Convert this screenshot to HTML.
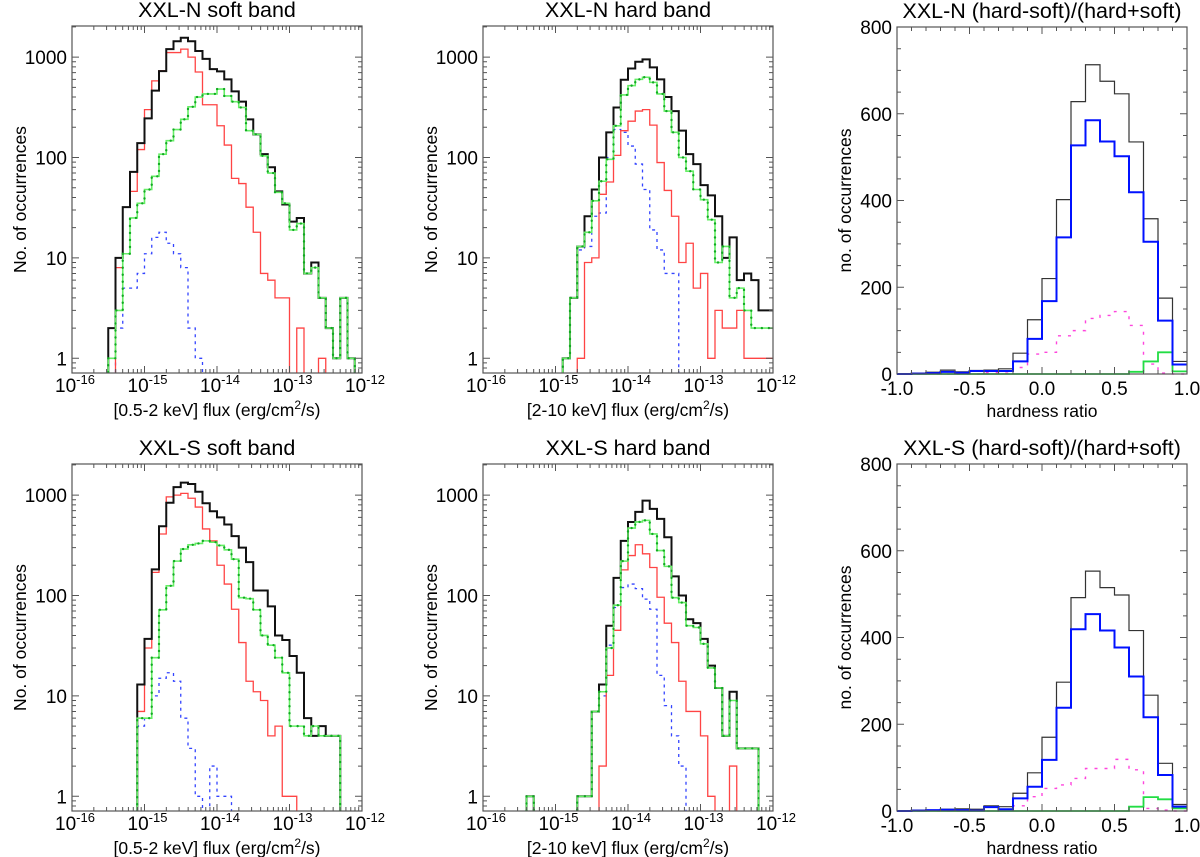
<!DOCTYPE html>
<html><head><meta charset="utf-8"><style>
html,body{margin:0;padding:0;background:#fff;}
svg{display:block;font-family:"Liberation Sans",Arial,sans-serif;}
</style></head><body>
<svg id="chart" width="1200" height="857" viewBox="0 0 1200 857" xmlns="http://www.w3.org/2000/svg"></svg>
<script>
// ---- data: log flux histograms, bins of 0.1 dex from 1e-16 to 1e-12 (40 bins) ----
const logBinStart = -16, logBinWidth = 0.1;
const nSoftTotal = [0,0,0,0,0,2,10,32,72,139,245,464,725,1200,1440,1560,1440,1150,960,760,720,600,455,360,240,170,108,80,46,34,23,25,7,9,4,2,1,4,1,0];
const nSoftRed   = [0,0,0,0,0,0,8,32,46,120,300,580,730,1110,1110,1200,1000,710,335,335,207,133,62,55,32,18,7,6,4,4,0,2,0,0,1,0,0,0,0,0];
const nSoftGreen = [0,0,0,0,0,1,3,11,25,35,48,65,108,147,190,240,320,400,430,430,480,410,360,315,185,170,104,70,45,35,19,22,7,8,4,2,1,4,1,0];
const nSoftBlue  = [0,0,0,0,0,0,2,5,5,7,11,16,18,14,11,8,2,1,0,0,0,0,0,0,0,0,0,0,0,0,0,0,0,0,0,0,0,0,0,0];
const nHardTotal = [0,0,0,0,0,0,0,0,0,0,0,1,4,13,26,48,100,178,315,595,770,900,950,790,600,400,290,185,108,86,53,42,26,10,16,6,7,6,3,3];
const nHardRed   = [0,0,0,0,0,0,0,0,0,0,0,0,0,1,9,10,43,57,105,185,230,290,300,210,89,47,26,9,14,5,7,1,3,2,2,3,1,1,1,1];
const nHardGreen = [0,0,0,0,0,0,0,0,0,0,0,1,4,13,18,37,58,96,207,420,520,600,630,560,430,290,178,100,73,48,38,24,9,13,4,5,3,2,2,2];
const nHardBlue  = [0,0,0,0,0,0,0,0,0,0,0,1,4,12,13,26,28,100,190,178,130,86,48,19,12,7,7,0,0,0,0,0,0,0,0,0,0,0,0,0];
const sSoftTotal = [0,0,0,0,0,0,0,0,0,13,37,182,490,840,1200,1330,1290,1080,830,690,600,510,390,300,215,112,112,78,40,36,25,17,6,4,5,4,4,0,0,0];
const sSoftRed   = [0,0,0,0,0,0,0,0,0,7,30,170,410,960,1000,1040,930,760,460,350,200,130,73,34,14,11,9,4,5,1,1,0,0,0,0,0,0,0,0,0];
const sSoftGreen = [0,0,0,0,0,0,0,0,0,6,6,24,72,125,220,290,320,330,350,340,315,285,230,95,93,72,40,32,24,17,5,5,4,5,4,4,4,0,0,0];
const sSoftBlue  = [0,0,0,0,0,0,0,0,0,5,6,10,15,17,14,6,3,1,0,2,1,1,0,0,0,0,0,0,0,0,0,0,0,0,0,0,0,0,0,0];
const sHardTotal = [0,0,0,0,0,0,1,0,0,0,0,0,0,1,1,7,13,50,150,350,540,680,880,730,580,380,155,100,58,53,37,20,12,4,11,3,3,3,0,0];
const sHardRed   = [0,0,0,0,0,0,0,0,0,0,0,0,0,0,0,0,2,16,45,180,250,320,260,190,96,53,34,14,7,7,4,1,0,0,2,0,0,0,0,0];
const sHardGreen = [0,0,0,0,0,0,1,0,0,0,0,0,0,1,1,7,11,30,80,220,470,540,560,410,280,195,95,85,50,48,33,19,12,4,9,3,3,3,0,0];
const sHardBlue  = [0,0,0,0,0,0,1,0,0,0,0,0,0,1,1,7,10,32,76,120,130,117,92,73,16,8,4,2,0,0,0,0,0,0,0,0,0,0,0,0];
// ---- hardness ratio histograms, bins 0.1 from -1 to 1 ----
const hrBinStart = -1, hrBinWidth = 0.1;
const hrNTotal = [0,2,4,9,5,8,9,12,48,125,220,402,628,713,675,646,535,358,175,29];
const hrNBlue  = [0,1,2,5,3,7,7,7,29,81,168,315,527,585,536,502,419,305,123,22];
const hrNPink  = [0,0,0,0,0,0,3,2,15,46,50,88,100,128,135,144,112,23,2,0];
const hrNGreen = [0,0,0,0,0,0,0,0,0,0,0,0,0,0,0,0,5,29,50,6];
const hrSTotal = [0,2,2,4,5,4,12,10,41,88,170,297,492,553,515,498,416,267,110,15];
const hrSBlue  = [0,1,2,3,2,1,9,4,29,56,118,238,419,454,416,377,310,216,83,10];
const hrSPink  = [0,0,0,0,0,0,0,4,12,33,52,60,75,98,98,119,95,6,2,0];
const hrSGreen = [0,0,0,0,0,0,0,0,0,0,0,0,0,0,0,0,10,32,27,6];
// tick labels
const logTickExps = ["-16","-15","-14","-13","-12"];
const logYTickLabels = ["1","10","100","1000"];
const hrXTickLabels = ["-1.0","-0.5","0.0","0.5","1.0"];
const hrYTickLabels = ["0","200","400","600","800"];

const NS="http://www.w3.org/2000/svg";
const svg=document.getElementById('chart');
function mk(tag,attrs,parent){const e=document.createElementNS(NS,tag);for(const k in attrs)e.setAttribute(k,attrs[k]);(parent||svg).appendChild(e);return e;}

let clipId=0;
function logPanel(px0,py0,title,xtitle,series,pname){
  const x0=px0,x1=px0+290,y0=py0,y1=py0+347;
  const yOne=py0+332.3, perDec=100.4;
  const xs=l=>x0+(l+16)*72.5;
  const ys=v=>v>0?yOne-perDec*Math.log10(v):y1+5;
  const g=mk('g',{});
  
  
  const t=mk('text',{x:(x0+x1)/2,y:py0-9,'text-anchor':'middle','font-size':21.5},g);t.textContent=title;
  
  clipId++;const cp=mk('clipPath',{id:'c'+clipId},g);mk('rect',{x:x0,y:y0,width:290,height:347},cp);
  const sg=mk('g',{'clip-path':'url(#c'+clipId+')'},g);
  for(const s of series){
    let d='';
    s.data.forEach((v,i)=>{const xa=xs(logBinStart+i*logBinWidth),xb=xs(logBinStart+(i+1)*logBinWidth),y=ys(v);d+=(i===0?'M':'L')+xa+','+y+'L'+xb+','+y;});
    const p=mk('path',{d:d,fill:'none',stroke:s.color,'stroke-width':s.w,'stroke-dasharray':s.dash||'none','stroke-linecap':s.cap||'butt'},sg);
    
    if(s.dots){const q=mk('path',{d:d,fill:'none',stroke:s.dots,'stroke-width':2.4,'stroke-dasharray':'0,7','stroke-linecap':'round'},sg);
      }
  }
  const fr=mk('rect',{x:x0,y:y0,width:290,height:347,fill:'none',stroke:'#555','stroke-width':1.2},g);
  
  let tk='';
  for(let dcd=-16;dcd<=-12;dcd++){for(let m=1;m<=9;m++){const l=dcd+Math.log10(m);if(l>-12+1e-9)break;const x=xs(l),L=m===1?7:4;tk+=`M${x},${y1}v-${L}M${x},${y0}v${L}`;}}
  for(let dcd=-1;dcd<=3;dcd++){for(let m=1;m<=9;m++){const v=m*Math.pow(10,dcd);const y=ys(v);if(y<y0||y>y1)continue;const L=m===1?7:4;tk+=`M${x0},${y}h${L}M${x1},${y}h-${L}`;}}
  mk('path',{d:tk,stroke:'#555','stroke-width':1,fill:'none'},g);
  logTickExps.forEach((e,i)=>{const x=xs(-16+i);const tt=mk('text',{x:x+3,y:y1+19,'text-anchor':'middle','font-size':19},g);
    
    const a=mk('tspan',{},tt);a.textContent='10';const b=mk('tspan',{dy:-8,'font-size':13},tt);b.textContent=e;});
  logYTickLabels.forEach((lab,i)=>{const tt=mk('text',{x:x0-5,y:ys(Math.pow(10,i))+7,'text-anchor':'end','font-size':19},g);tt.textContent=lab;
    });
  const xt=mk('text',{x:(x0+x1)/2,y:y1+43,'text-anchor':'middle','font-size':17.5},g);
  
  const p1=mk('tspan',{},xt);p1.textContent=xtitle+' flux (erg/cm';const p2=mk('tspan',{dy:-7,'font-size':12},xt);p2.textContent='2';const p3=mk('tspan',{dy:7},xt);p3.textContent='/s)';
  const yt=mk('text',{x:0,y:0,transform:`translate(${x0-46},${(y0+y1)/2}) rotate(-90)`,'text-anchor':'middle','font-size':17.5},g);yt.textContent='No. of occurrences';
  
}
function hrPanel(px0,py0,title,series,pname){
  const x0=px0,x1=px0+290,y0=py0,y1=py0+347;
  const xs=v=>x0+(v+1)*145;
  const ys=v=>y1-v*347/800;
  const g=mk('g',{});
  
  
  const t=mk('text',{x:(x0+x1)/2,y:py0-9,'text-anchor':'middle','font-size':21.5},g);t.textContent=title;
  
  for(const s of series){
    let d='';
    s.data.forEach((v,i)=>{const xa=xs(hrBinStart+i*hrBinWidth),xb=xs(hrBinStart+(i+1)*hrBinWidth),y=ys(v);d+=(i===0?'M':'L')+xa+','+y+'L'+xb+','+y;});
    const p=mk('path',{d:d,fill:'none',stroke:s.color,'stroke-width':s.w,'stroke-dasharray':s.dash||'none'},g);
    
  }
  const fr=mk('rect',{x:x0,y:y0,width:290,height:347,fill:'none',stroke:'#555','stroke-width':1.2},g);
  
  let tk='';
  for(let i=0;i<=20;i++){const x=xs(-1+i*0.1),L=i%5===0?7:4;tk+=`M${x},${y1}v-${L}M${x},${y0}v${L}`;}
  for(let i=0;i<=16;i++){const y=ys(i*50),L=i%4===0?7:4;tk+=`M${x0},${y}h${L}M${x1},${y}h-${L}`;}
  mk('path',{d:tk,stroke:'#555','stroke-width':1,fill:'none'},g);
  hrXTickLabels.forEach((lab,i)=>{const tt=mk('text',{x:xs(-1+i*0.5),y:y1+21,'text-anchor':'middle','font-size':19},g);tt.textContent=lab;
    });
  hrYTickLabels.forEach((lab,i)=>{const tt=mk('text',{x:x0-5,y:ys(i*200)+7,'text-anchor':'end','font-size':19},g);tt.textContent=lab;
    });
  const xt=mk('text',{x:(x0+x1)/2,y:y1+43,'text-anchor':'middle','font-size':17.5},g);xt.textContent='hardness ratio';
  
  const yt=mk('text',{x:0,y:0,transform:`translate(${x0-46},${(y0+y1)/2}) rotate(-90)`,'text-anchor':'middle','font-size':17.5},g);yt.textContent='no. of occurrences';
  
}
function logSeries(tot,red,green,blue){return [
  {name:'series-blue',data:blue,color:'#3344ff',w:1.3,dash:'3,4'},
  {name:'series-red',data:red,color:'#ff4444',w:1.3},
  {name:'series-total',data:tot,color:'#111',w:2},
  {name:'series-green',data:green,color:'#66ee66',w:1.6,dots:'#11aa22'}];}
function hrSeries(tot,blue,pink,green){return [
  {name:'series-pink',data:pink,color:'#ff44dd',w:1.4,dash:'3,7'},
  {name:'series-green',data:green,color:'#22dd44',w:1.8},
  {name:'series-total',data:tot,color:'#333',w:1.2},
  {name:'series-blue',data:blue,color:'#0011ff',w:2}];}
logPanel(72,26,'XXL-N soft band','[0.5-2 keV]',logSeries(nSoftTotal,nSoftRed,nSoftGreen,nSoftBlue),'panel-xxln-soft');
logPanel(483,26,'XXL-N hard band','[2-10 keV]',logSeries(nHardTotal,nHardRed,nHardGreen,nHardBlue),'panel-xxln-hard');
hrPanel(897,27,'XXL-N (hard-soft)/(hard+soft)',hrSeries(hrNTotal,hrNBlue,hrNPink,hrNGreen),'panel-xxln-hr');
logPanel(72,464,'XXL-S soft band','[0.5-2 keV]',logSeries(sSoftTotal,sSoftRed,sSoftGreen,sSoftBlue),'panel-xxls-soft');
logPanel(483,464,'XXL-S hard band','[2-10 keV]',logSeries(sHardTotal,sHardRed,sHardGreen,sHardBlue),'panel-xxls-hard');
hrPanel(897,464,'XXL-S (hard-soft)/(hard+soft)',hrSeries(hrSTotal,hrSBlue,hrSPink,hrSGreen),'panel-xxls-hr');
</script>
</body></html>
